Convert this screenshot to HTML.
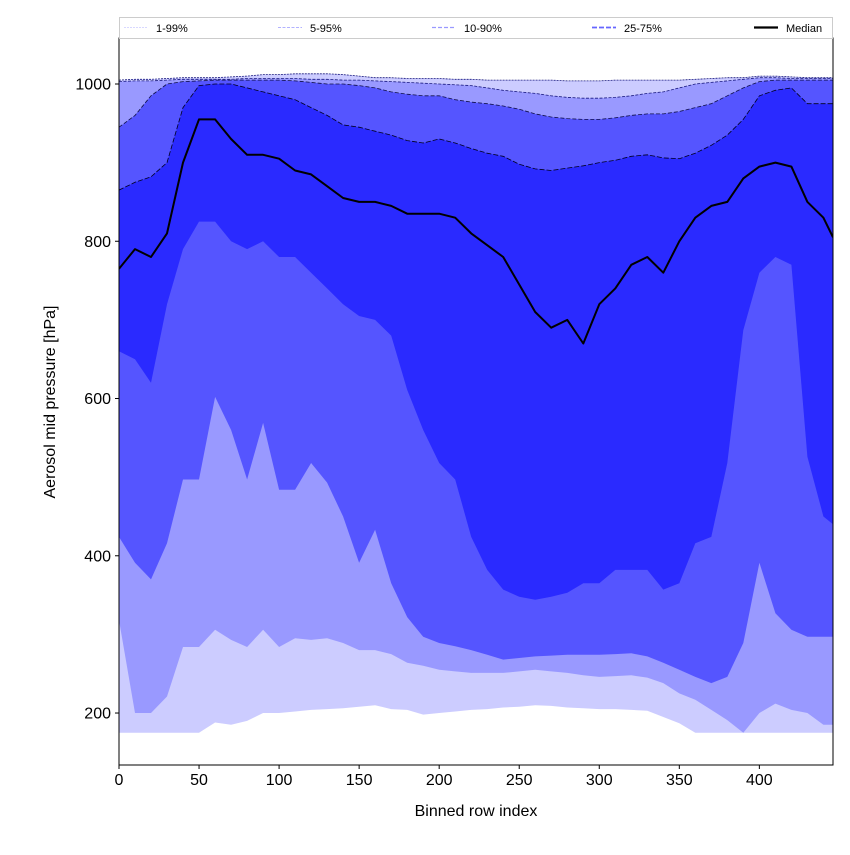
<!DOCTYPE html>
<html><head><meta charset="utf-8"><style>
body{margin:0;background:#fff}
svg text{font-family:"Liberation Sans",sans-serif}
</style></head><body>
<svg id="chart" width="850" height="850" viewBox="0 0 850 850">
<g id="plot"></g>
<g id="axes"></g>
<g id="legend"></g>
</svg>
<script>
const xs = [0,10,20,30,40,50,60,70,80,90,100,110,120,130,140,150,160,170,180,190,200,210,220,230,240,250,260,270,280,290,300,310,320,330,340,350,360,370,380,390,400,410,420,430,440,446];
const p99 = [1005,1006,1006,1007,1008,1008,1008,1009,1010,1012,1012,1013,1013,1013,1012,1010,1008,1008,1007,1007,1007,1006,1006,1005,1005,1005,1005,1005,1004,1004,1004,1005,1005,1005,1005,1005,1006,1007,1008,1008,1010,1010,1009,1008,1008,1008];
const p95 = [1003,1004,1004,1005,1006,1006,1006,1006,1007,1007,1007,1007,1006,1006,1005,1005,1004,1003,1002,1001,1000,999,998,995,992,990,988,985,983,982,982,983,985,988,990,995,1000,1002,1004,1006,1008,1008,1007,1007,1007,1007];
const p90 = [945,960,985,1000,1003,1004,1005,1005,1005,1005,1005,1004,1002,1000,1000,998,995,990,987,985,985,980,977,975,972,968,962,958,956,955,955,957,960,962,962,965,970,975,985,995,1003,1005,1005,1005,1005,1005];
const p75 = [865,875,882,900,970,998,1000,1000,995,990,985,980,970,960,948,945,940,935,928,925,930,925,918,912,908,898,892,890,893,896,900,903,908,910,906,905,912,922,935,955,985,992,995,975,975,975];
const median = [765,790,780,810,900,955,955,930,910,910,905,890,885,870,855,850,850,845,835,835,835,830,810,795,780,745,710,690,700,670,720,740,770,780,760,800,830,845,850,880,895,900,895,850,830,805];
const p25 = [660,650,620,720,790,825,825,800,790,800,780,780,760,740,720,705,700,680,611,560,518,497,424,382,357,348,344,348,353,365,365,382,382,382,357,365,416,424,518,687,760,780,770,526,450,440];
const p10 = [424,391,370,416,497,497,602,560,497,569,484,484,518,493,450,391,433,365,322,297,289,285,280,274,268,270,272,273,274,274,274,275,276,272,264,255,246,238,246,289,391,327,306,297,297,297];
const p5 = [318,200,200,221,284,284,306,293,284,306,284,295,293,295,289,280,280,275,264,260,255,253,251,251,251,253,255,253,251,248,246,247,248,245,238,225,217,204,191,175,200,212,204,200,185,185];
const p1 = [175,175,175,175,175,175,188,185,190,200,200,202,204,205,206,208,210,205,204,198,200,202,204,205,207,208,210,209,207,206,205,205,204,203,195,187,175,175,175,175,175,175,175,175,175,175];
const xTicks = [0,50,100,150,200,250,300,350,400];
const yTicks = [200,400,600,800,1000];
const legendLabels = ["1-99%","5-95%","10-90%","25-75%","Median"];

const L=119,R=833,T=38,B=765, X0=0,X1=446, Y0=133.9,Y1=1058.5;
const sx=v=>L+(v-X0)/(X1-X0)*(R-L);
const sy=v=>B-(v-Y0)/(Y1-Y0)*(B-T);
const NS="http://www.w3.org/2000/svg";
function mk(tag,attrs,parent){const e=document.createElementNS(NS,tag);for(const k in attrs)e.setAttribute(k,attrs[k]);parent.appendChild(e);return e;}
const plot=document.getElementById('plot'),axes=document.getElementById('axes'),leg=document.getElementById('legend');
const cp=mk('clipPath',{id:'clip'},plot);
mk('rect',{x:L,y:T,width:R-L,height:B-T},cp);
const g=mk('g',{'clip-path':'url(#clip)'},plot);
function line(arr){return xs.map((x,i)=>sx(x).toFixed(1)+','+sy(arr[i]).toFixed(1)).join(' ');}
function band(lo,hi,fill,edge,dash,name){
  const pts=xs.map((x,i)=>sx(x).toFixed(1)+','+sy(hi[i]).toFixed(1));
  for(let i=xs.length-1;i>=0;i--)pts.push(sx(xs[i]).toFixed(1)+','+sy(lo[i]).toFixed(1));
  const p=mk('polygon',{points:pts.join(' '),fill:fill,stroke:'none'},g);
  
  
  const u=mk('polyline',{points:line(hi),fill:'none',stroke:edge,'stroke-width':0.8,'stroke-dasharray':dash},g);
  
  
}
band(p1,p99,'#ccccff','#1a1a80','2,1','band-1-99');
band(p5,p95,'#9999ff','#1a1a80','3,1.5','band-5-95');
band(p10,p90,'#5555ff','#10104a','4,2','band-10-90');
band(p25,p75,'#2a2aff','#000020','5,2','band-25-75');
const med=mk('polyline',{points:line(median),fill:'none',stroke:'#000','stroke-width':2,'stroke-linejoin':'round'},g);


mk('rect',{x:L,y:T,width:R-L,height:B-T,fill:'none',stroke:'#000','stroke-width':1},axes);
xTicks.forEach(v=>{const x=sx(v);mk('line',{x1:x,x2:x,y1:B,y2:B+4,stroke:'#000'},axes);
 const t=mk('text',{x:x,y:B+20,'text-anchor':'middle','font-size':16},axes);t.textContent=v;
 });
yTicks.forEach(v=>{const y=sy(v);mk('line',{x1:L-4,x2:L,y1:y,y2:y,stroke:'#000'},axes);
 const t=mk('text',{x:L-8,y:y+5.5,'text-anchor':'end','font-size':16},axes);t.textContent=v;
 });
const xt=mk('text',{x:(L+R)/2,y:816,'text-anchor':'middle','font-size':16},axes);xt.textContent='Binned row index';

const yt=mk('text',{x:0,y:0,'text-anchor':'middle','font-size':16,transform:'translate(55,402) rotate(-90)'},axes);yt.textContent='Aerosol mid pressure [hPa]';

mk('rect',{x:119.5,y:17.5,width:713,height:21,fill:'#fff',stroke:'#ccc'},leg);
const lc=['#ccccff','#9999ff','#9999ff','#6666ff','#000'],lw=[0.8,0.8,1.2,1.8,2.2],ld=['2,1','3,1.5','4,2','5,2',''];
const lx=[124,278,432,592,754];
legendLabels.forEach((s,i)=>{
 const e=mk('g',{},leg);
 
 
 mk('line',{x1:lx[i],x2:lx[i]+24,y1:27.5,y2:27.5,stroke:lc[i],'stroke-width':lw[i],'stroke-dasharray':ld[i]},e);
 const t=mk('text',{x:lx[i]+32,y:32,'font-size':11},e);t.textContent=s;});
</script>
</body></html>
